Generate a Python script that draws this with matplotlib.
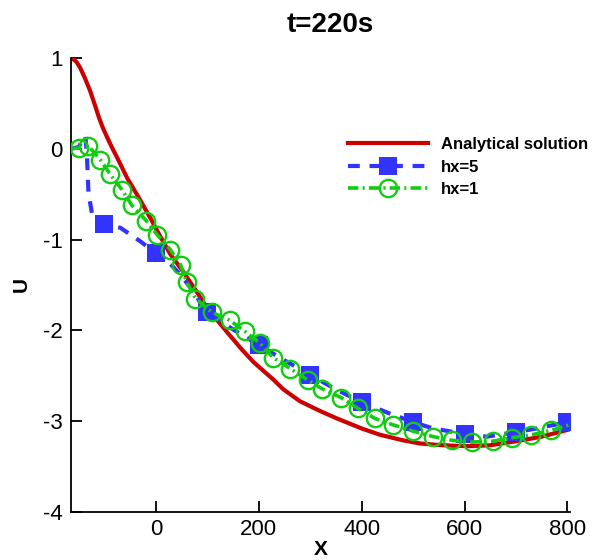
import numpy as np
import matplotlib
matplotlib.use("Agg")
import matplotlib.pyplot as plt

plt.rcParams['font.family'] = ['Liberation Sans', 'DejaVu Sans']
plt.rcParams['axes.unicode_minus'] = False
plt.rcParams['lines.scale_dashes'] = False

# Analytical solution
red_x = [-165, -160, -154, -147, -138, -128, -119, -111, -103, -95, -85, -75, -56, -33,
         -11, 10, 28, 54, 80, 99, 118, 140, 167, 190, 228, 248, 280, 320, 352, 400, 436,
         480, 513, 545, 578, 610, 650, 701, 750, 804]
red_y = [1.0, 0.985, 0.955, 0.89, 0.78, 0.64, 0.49, 0.35, 0.23, 0.13, 0.01, -0.10, -0.32,
         -0.54, -0.76, -0.98, -1.16, -1.36, -1.58, -1.75, -1.88, -2.03, -2.21, -2.35,
         -2.54, -2.65, -2.78, -2.89, -2.97, -3.08, -3.15, -3.21, -3.245, -3.26, -3.27,
         -3.275, -3.265, -3.22, -3.17, -3.09]

# hx=5
blue_x = [-165, -150, -140, -137, -134, -131, -124, -100, -69, -30, 0, 25, 50, 67, 100,
          150, 200, 250, 300, 350, 400, 452, 500, 539, 600, 643, 700, 740, 800]
blue_y = [0.0, 0.02, 0.12, 0.14, -0.08, -0.49, -0.72, -0.83, -0.87, -1.02, -1.15, -1.25,
          -1.40, -1.53, -1.80, -1.99, -2.16, -2.33, -2.49, -2.65, -2.79, -2.91, -3.01,
          -3.08, -3.14, -3.17, -3.12, -3.08, -3.01]
blue_marker_x = [-100, 0, 100, 200, 300, 400, 500, 600, 700, 800]

# hx=1
green_x = [-165, -149, -131, -108, -89, -66, -47, -19, 3, 28, 48, 60, 77, 109, 144, 173,
           202, 228, 261, 296, 322, 360, 393, 426, 461, 500, 539, 575, 614, 656, 693, 730,
           769, 804]
green_y = [0.0, 0.01, 0.03, -0.12, -0.28, -0.45, -0.62, -0.79, -0.95, -1.11, -1.28, -1.47,
           -1.65, -1.80, -1.89, -2.01, -2.14, -2.30, -2.42, -2.55, -2.64, -2.74, -2.86,
           -2.97, -3.04, -3.11, -3.17, -3.21, -3.23, -3.22, -3.18, -3.15, -3.10, -3.04]

x_ticks = [0, 200, 400, 600, 800]
y_ticks = [1, 0, -1, -2, -3, -4]

red_c = '#cc0000'
blue_c = '#3333ff'
green_c = '#11cc11'

fig = plt.figure(figsize=(5.93, 5.60), dpi=100)
ax = fig.add_axes([71/593, 1-512/560, (570-71)/593, (512-58)/560])

ax.plot(red_x, red_y, color=red_c, lw=3.0, label='Analytical solution', zorder=2)

blue_idx = [i for i, v in enumerate(blue_x) if v in blue_marker_x]
ax.plot(blue_x, blue_y, color=blue_c, lw=3.0, dashes=(8.5, 7),
        marker='s', markersize=13, markevery=blue_idx, markeredgewidth=0,
        label='hx=5', zorder=3)

ax.plot(green_x, green_y, color=green_c, lw=2.6, dashes=(7.5, 3, 1.5, 3),
        marker='o', markersize=12.5, markerfacecolor='none', markeredgecolor=green_c,
        markeredgewidth=1.7, markevery=list(range(1, len(green_x) - 1)),
        label='hx=1', zorder=4)

ax.set_xlim(-165, 805)
ax.set_ylim(-4, 1)
ax.set_xticks(x_ticks)
ax.set_yticks(y_ticks)
ax.set_xticklabels([str(v) for v in x_ticks])
ax.set_yticklabels([str(v) for v in y_ticks])

for s in ['top', 'right']:
    ax.spines[s].set_visible(False)
for s in ['left', 'bottom']:
    ax.spines[s].set_linewidth(1.3)
ax.tick_params(direction='in', length=8, width=1.3, labelsize=16)
ax.tick_params(axis='x', pad=5)
ax.tick_params(axis='y', pad=6)

ax.text(0.52, 1.045, 't=220s', transform=ax.transAxes, ha='center', va='bottom',
        fontsize=20, fontweight='bold')
ax.set_xlabel('X', fontsize=15, fontweight='bold', labelpad=0)
ax.set_ylabel('U', fontsize=15, fontweight='bold', labelpad=9)

leg = ax.legend(loc='upper left', bbox_to_anchor=(348/593, 1-137/560),
                bbox_transform=fig.transFigure, frameon=False, borderpad=0,
                borderaxespad=0, handlelength=4.8, handletextpad=0.8,
                labelspacing=0.45, numpoints=1, prop={'size': 12, 'weight': 'bold'})

fig.savefig('out.png', dpi=100)
